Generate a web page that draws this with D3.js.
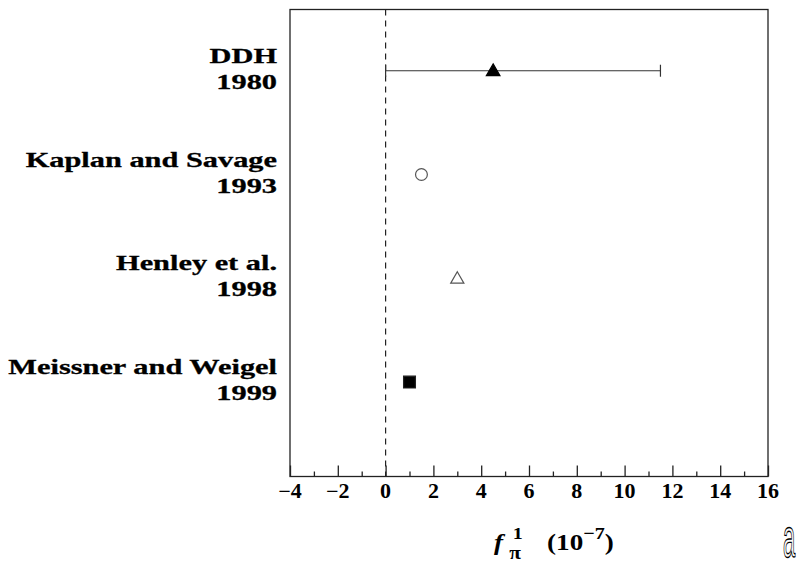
<!DOCTYPE html>
<html>
<head>
<meta charset="utf-8">
<script src="https://cdn.jsdelivr.net/npm/d3@7"></script>
<style>
  html, body { margin: 0; padding: 0; background: #fff; }
  svg { display: block; }
</style>
</head>
<body>
<svg id="chart" width="797" height="563"></svg>
<script>
// Measurements of the parity-violating pi-N coupling
const studies = ["DDH", "Kaplan and Savage", "Henley et al.", "Meissner and Weigel"];
const years = ["1980", "1993", "1998", "1999"];
const values = [4.5, 1.5, 3.0, 1.0];
const errLow = [0, null, null, null];
const errHigh = [11.5, null, null, null];
const markers = ["triangle-filled", "circle-open", "triangle-open", "square-filled"];
const xTicks = [-4, -2, 0, 2, 4, 6, 8, 10, 12, 14, 16];
const xMinorTicks = [-3, -1, 1, 3, 5, 7, 9, 11, 13, 15];

const SERIF = "'Liberation Serif', 'Times New Roman', serif";
const svg = d3.select("#chart");
const L = 290, R = 768, T = 9.5, B = 476.5;

const x = d3.scaleLinear().domain([-4, 16]).range([L, R]);
const y = d3.scaleLinear().domain([-0.59, 3.91]).range([T, B]);

// wide bold serif text, stretched horizontally about its anchor
function wideText(sel, ax, ay, size, sx) {
  return sel.append("text")
    .style("font-family", SERIF).style("font-weight", "bold")
    .style("font-size", size + "px").style("fill", "#000")
    .attr("transform", `translate(${ax},${ay}) scale(${sx},1)`);
}

// frame
svg.append("rect")
  .attr("x", L).attr("y", T).attr("width", R - L).attr("height", B - T)
  .attr("fill", "none").attr("stroke", "#222").attr("stroke-width", 1.3);

// zero reference line
svg.append("line")
  .attr("x1", x(0)).attr("x2", x(0)).attr("y1", T).attr("y2", B)
  .attr("stroke", "#222").attr("stroke-width", 1.2)
  .attr("stroke-dasharray", "6,5");

// bottom axis: inward major and minor ticks
const axisMajor = d3.axisBottom(x).tickValues(xTicks).tickSizeInner(-11).tickSizeOuter(0).tickFormat("");
const gMaj = svg.append("g").attr("transform", `translate(0,${B})`).call(axisMajor);
gMaj.select(".domain").remove();
gMaj.selectAll("line").attr("stroke", "#222").attr("stroke-width", 1.3);

const axisMinor = d3.axisBottom(x).tickValues(xMinorTicks).tickSizeInner(-5).tickSizeOuter(0).tickFormat("");
const gMin = svg.append("g").attr("transform", `translate(0,${B})`).call(axisMinor);
gMin.select(".domain").remove();
gMin.selectAll("line").attr("stroke", "#222").attr("stroke-width", 1.3);

// tick labels
xTicks.forEach(d => {
  wideText(svg, x(d), B + 21, 20, 1.1)
    .attr("text-anchor", "middle")
    .text(d < 0 ? "\u2212" + Math.abs(d) : String(d));
});

// study labels: name above, year below
studies.forEach((s, i) => {
  const lbl = wideText(svg, 277, y(i) - 8, 22, 1.38)
    .attr("text-anchor", "end")
    .style("stroke", "#000").style("stroke-width", "0.3px");
  lbl.append("tspan").attr("x", 0).attr("dy", 0).text(s);
  lbl.append("tspan").attr("x", 0).attr("dy", 26).text(years[i]);
});

// error bars
values.forEach((v, i) => {
  if (errLow[i] === null) return;
  const yy = y(i);
  svg.append("line").attr("x1", x(errLow[i])).attr("x2", x(errHigh[i]))
    .attr("y1", yy).attr("y2", yy).attr("stroke", "#333").attr("stroke-width", 1.2);
  [errLow[i], errHigh[i]].forEach(e => {
    svg.append("line").attr("x1", x(e)).attr("x2", x(e))
      .attr("y1", yy - 6).attr("y2", yy + 6).attr("stroke", "#333").attr("stroke-width", 1.2);
  });
});

// markers
const sym = {
  "triangle-filled": { type: d3.symbolTriangle, size: 80, fill: "#000", stroke: "#000" },
  "circle-open": { type: d3.symbolCircle, size: 110, fill: "#fff", stroke: "#555" },
  "triangle-open": { type: d3.symbolTriangle, size: 75, fill: "#fff", stroke: "#555" },
  "square-filled": { type: d3.symbolSquare, size: 140, fill: "#000", stroke: "#222" }
};
values.forEach((v, i) => {
  const m = sym[markers[i]];
  svg.append("path")
    .attr("d", d3.symbol().type(m.type).size(m.size)())
    .attr("transform", `translate(${x(v)},${y(i) + (m.type === d3.symbolTriangle ? 1 : 0)})`)
    .attr("fill", m.fill).attr("stroke", m.stroke).attr("stroke-width", 1.2);
});

// axis title: f_pi^1 (10^-7)
const t = wideText(svg, 494, 550, 23, 1.18);
t.append("tspan").attr("x", 0).style("font-style", "italic").text("f");
t.append("tspan").attr("x", 13).attr("dy", 9).style("font-size", "18px").text("\u03c0");
t.append("tspan").attr("x", 16).attr("dy", -20).style("font-size", "17px").text("1");
t.append("tspan").attr("x", 45).attr("dy", 11).text("(10");
t.append("tspan").attr("dy", -11).style("font-size", "17px").text("\u22127");
t.append("tspan").attr("dy", 11).text(")");

// stray outlined glyph at the lower right edge
svg.append("text")
  .attr("transform", "translate(783,557) scale(0.55,1.4)")
  .style("font-family", "'Liberation Sans', Arial, sans-serif")
  .style("font-size", "40px")
  .style("fill", "#fff").style("stroke", "#000").style("stroke-width", "1px")
  .text("a");
</script>
</body>
</html>
